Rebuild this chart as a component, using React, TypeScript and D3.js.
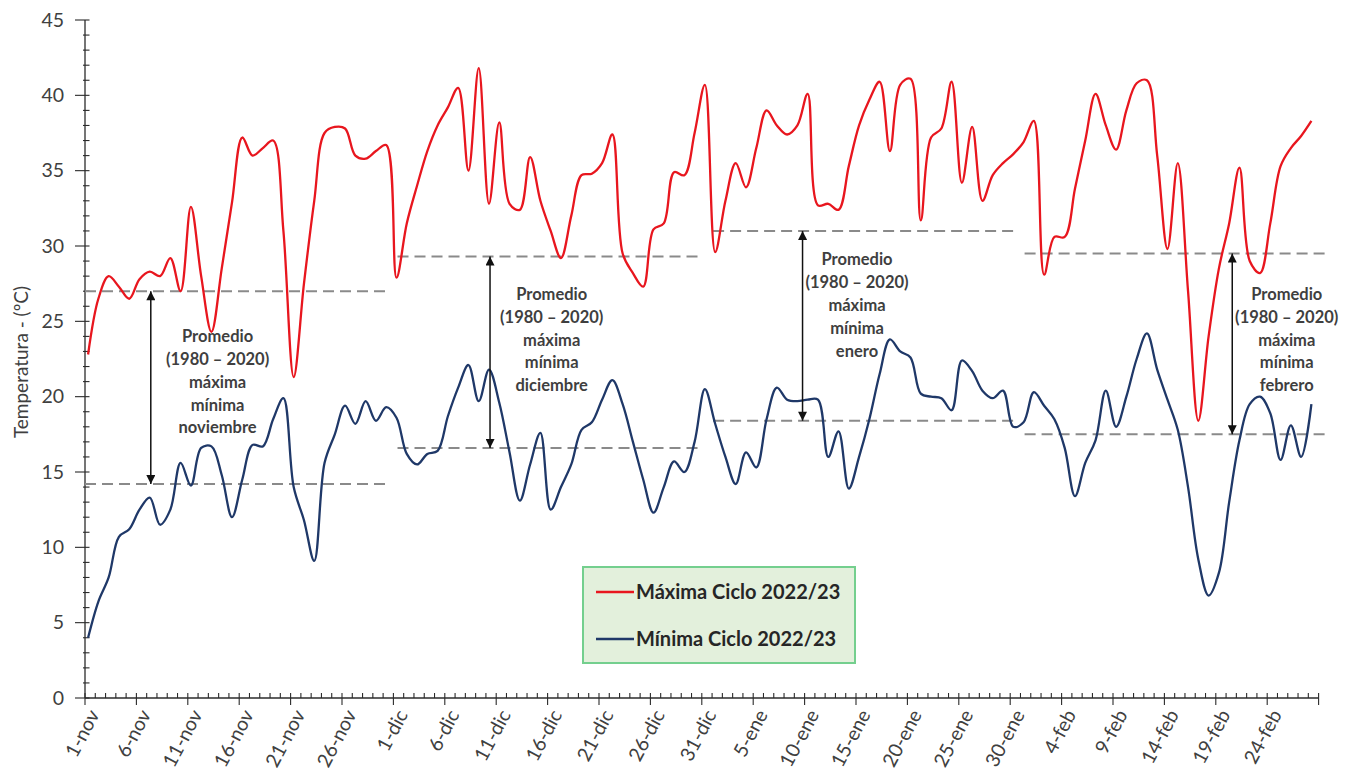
import React from 'react';
import * as d3 from 'd3';

// Daily temperatures 1-nov-2022 .. 28-feb-2023 (index 0..119)
const maxTemp = [
  22.8, 26.5, 28.0, 27.3, 26.5, 27.8, 28.3, 28.0, 29.2, 27.0, 32.6, 28.0, 24.3, 28.5, 32.9,
  37.2, 36.0, 36.5, 37.0, 31.0, 21.3, 27.5, 33.0, 37.5, 37.9, 37.8, 36.0, 35.8, 36.3, 36.7,
  27.9, 31.5, 34.0, 36.3, 38.0, 39.2, 40.5, 35.0, 41.8, 32.8, 38.2, 32.8, 32.4, 35.9, 33.0,
  31.0, 29.2, 32.0, 34.7, 34.8, 35.5, 37.4, 29.5, 28.2, 27.3, 31.1, 31.5, 34.9, 34.7, 37.5, 40.7,
  29.6, 33.0, 35.5, 33.9, 36.5, 39.0, 38.0, 37.4, 38.0, 40.1, 32.7, 32.8, 32.4, 35.3, 38.0,
  39.7, 40.9, 36.3, 40.7, 41.1, 31.7, 37.2, 37.8, 40.9, 34.2, 37.9, 33.0, 34.7, 35.5, 36.1, 36.9,
  38.3, 28.1, 30.6, 30.6, 33.8, 37.0, 40.1, 38.0, 36.4, 39.0, 40.8, 41.0, 36.0, 29.8, 35.5,
  27.0, 18.4, 24.0, 28.5, 31.5, 35.2, 29.0, 28.2, 31.5, 35.3, 36.5, 37.3, 38.3,
];
const minTemp = [
  4.0, 6.4, 8.0, 10.7, 11.2, 12.5, 13.3, 11.5, 12.5, 15.6, 14.1, 16.6, 16.7, 14.8, 12.0,
  14.5, 16.8, 16.7, 18.5, 19.9, 14.0, 11.8, 9.1, 15.6, 17.5, 19.4, 18.2, 19.7, 18.4, 19.3,
  18.6, 16.2, 15.5, 16.2, 16.4, 18.7, 20.6, 22.1, 19.7, 21.8, 19.6, 16.3, 13.1, 15.5, 17.6,
  12.5, 14.0, 15.5, 17.8, 18.3, 19.8, 21.1, 19.5, 17.0, 14.5, 12.3, 14.0, 15.7, 15.0, 17.0, 20.5,
  18.2, 16.0, 14.2, 16.3, 15.3, 18.5, 20.6, 19.8, 19.7, 19.8, 19.8, 16.0, 17.7, 13.9, 16.0,
  18.5, 21.5, 23.8, 23.0, 22.6, 20.2, 20.0, 19.9, 19.1, 22.4, 21.7, 20.4, 19.9, 20.4, 18.0, 18.3,
  20.3, 19.4, 18.5, 16.6, 13.4, 15.6, 17.1, 20.4, 18.0, 20.0, 22.5, 24.2, 21.8, 19.8, 17.8,
  14.0, 9.2, 6.8, 8.3, 13.0, 17.1, 19.5, 20.0, 18.9, 15.8, 18.1, 16.0, 19.5,
];
const tickLabels = [
  '1-nov', '6-nov', '11-nov', '16-nov', '21-nov', '26-nov', '1-dic', '6-dic', '11-dic', '16-dic',
  '21-dic', '26-dic', '31-dic', '5-ene', '10-ene', '15-ene', '20-ene', '25-ene', '30-ene', '4-feb',
  '9-feb', '14-feb', '19-feb', '24-feb',
];
const yTicks = [0, 5, 10, 15, 20, 25, 30, 35, 40, 45];
const monthNames = ['noviembre', 'diciembre', 'enero', 'febrero'];
const avgMax = [27.0, 29.3, 31.0, 29.5];
const avgMin = [14.2, 16.6, 18.4, 17.5];
const avgStart = [0, 30.4, 61.1, 91.4];
const avgEnd = [29.4, 59.8, 90.6, 121];
const arrowDay = [6.4, 39.4, 69.8, 111.6];
const noteDay = [12.9, 45.4, 75.1, 116.9];
const noteTop = [24.0, 26.8, 29.1, 26.8];
const seriesNames = ['Máxima Ciclo 2022/23', 'Mínima Ciclo 2022/23'];
const seriesColors = ['#e8161e', '#1f3868'];

const W = 1358;
const H = 776;
const FONT = 'Lato, "Open Sans", sans-serif';
const pointOffset = 0.3;

export default function App() {
  React.useEffect(() => {
    document.body.style.margin = '0';
    document.body.style.overflow = 'hidden';
  }, []);

  const x = d3.scaleLinear().domain([0, 120]).range([85, 1318.6]);
  const y = d3.scaleLinear().domain([0, 45]).range([698, 20]);

  const line = d3
    .line<number>()
    .x((_, i) => x(i + pointOffset))
    .y((d) => y(d))
    .curve(d3.curveCatmullRom.alpha(0.5));

  const minorX = d3.range(0, 121);
  const minorY = d3.range(0, 46);
  const axisColor = '#2b2b2b';
  const labelColor = '#404040';

  return (
    <svg width={W} height={H} style={{ position: 'absolute', left: 0, top: 0, background: '#fff' }} fontFamily={FONT}>
      <defs>
        <marker id="ah" viewBox="0 0 10 10" refX="10" refY="5" markerWidth="10" markerHeight="9"
          markerUnits="userSpaceOnUse" orient="auto-start-reverse">
          <path d="M0,0 L10,5 L0,10 z" fill="#111" />
        </marker>
      </defs>
      <rect x={0} y={0} width={W} height={H} fill="#fff" />

      {/* Y axis */}
      <line x1={x(0)} x2={x(0)} y1={y(0)} y2={y(45)} stroke={axisColor} strokeWidth={1.3} />
      {minorY.map((v) => (
        <line key={'my' + v} x1={x(0) - (v % 5 === 0 ? 10 : 2)} x2={x(0) + 4.5} y1={y(v)} y2={y(v)}
          stroke={axisColor} strokeWidth={1.1} />
      ))}
      {yTicks.map((v) => (
        <text key={'yt' + v} x={64} y={y(v)} dy="0.35em" textAnchor="end" fontSize={19.5} fill={labelColor}>
          {v}
        </text>
      ))}
      <text transform={`translate(21, ${y(22.3)}) rotate(-90)`} textAnchor="middle" fontSize={19}
        fill={labelColor} dy="0.35em">
        Temperatura - (ºC)
      </text>

      {/* X axis */}
      <line x1={x(0)} x2={x(120)} y1={y(0)} y2={y(0)} stroke={axisColor} strokeWidth={1.3} />
      {minorX.map((d) => (
        <line key={'mx' + d} x1={x(d)} x2={x(d)} y1={y(0) - 5} y2={y(0) + (d % 5 === 0 ? 7 : 0)}
          stroke={axisColor} strokeWidth={1.1} />
      ))}
      {tickLabels.map((t, k) => (
        <text key={'xt' + t} transform={`translate(${x(k * 5) + 3}, ${y(0) + 10}) rotate(-62)`}
          textAnchor="end" dy="0.7em" fontSize={19.5} fill={labelColor}>
          {t}
        </text>
      ))}

      {/* Climatological averages */}
      {monthNames.map((m, k) => (
        <g key={'avg' + m}>
          <line x1={x(avgStart[k])} x2={x(avgEnd[k])} y1={y(avgMax[k])} y2={y(avgMax[k])}
            stroke="#8a8a8a" strokeWidth={2} strokeDasharray="11,6" />
          <line x1={x(avgStart[k])} x2={x(avgEnd[k])} y1={y(avgMin[k])} y2={y(avgMin[k])}
            stroke="#8a8a8a" strokeWidth={2} strokeDasharray="11,6" />
        </g>
      ))}

      {/* Series */}
      <path d={line(maxTemp) || ''} fill="none" stroke={seriesColors[0]} strokeWidth={2.3} />
      <path d={line(minTemp) || ''} fill="none" stroke={seriesColors[1]} strokeWidth={2.3} />

      {/* Arrows and notes */}
      {monthNames.map((m, k) => (
        <g key={'note' + m}>
          <line x1={x(arrowDay[k])} x2={x(arrowDay[k])} y1={y(avgMax[k])} y2={y(avgMin[k])}
            stroke="#111" strokeWidth={1.5} markerStart="url(#ah)" markerEnd="url(#ah)" />
          {['Promedio', '(1980 – 2020)', 'máxima', 'mínima', m].map((t, j) => (
            <text key={t + j} x={x(noteDay[k])} y={y(noteTop[k]) + j * 22.8} dy="0.35em" textAnchor="middle"
              fontSize={16.5} fontWeight={700} fill="#3f3f3f">
              {t}
            </text>
          ))}
        </g>
      ))}

      {/* Legend */}
      <g>
        <rect x={583} y={567} width={272} height={96} fill="#e3f0dc" stroke="#74cf8e" strokeWidth={2} />
        {seriesNames.map((s, k) => (
          <g key={s}>
            <line x1={596} x2={634} y1={592 + k * 47} y2={592 + k * 47} stroke={seriesColors[k]} strokeWidth={2.3} />
            <text x={636} y={592 + k * 47} dy="0.35em" fontSize={20} fontWeight={700} fill="#262626">
              {s}
            </text>
          </g>
        ))}
      </g>
    </svg>
  );
}
